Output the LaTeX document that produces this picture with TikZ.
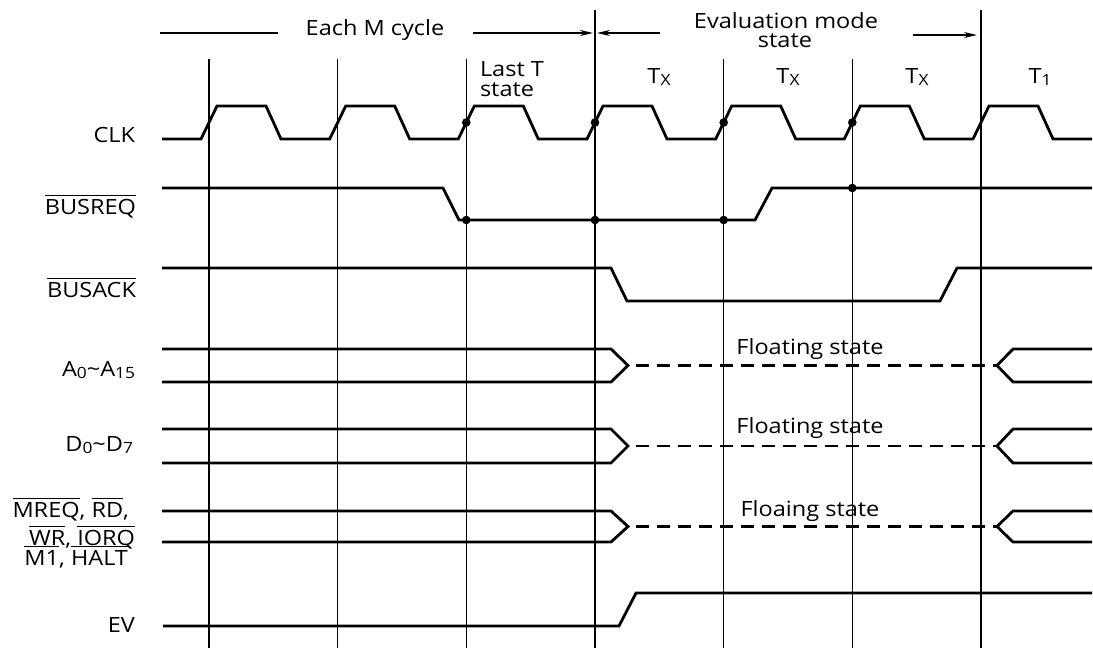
\documentclass[tikz,border=0pt]{standalone}
\usepackage{fontspec}
\setmainfont{Open Sans}[FakeStretch=1.12]
\usetikzlibrary{arrows.meta}
\newcommand\ovl[1]{\vbox{\hrule height 1.5pt\kern 2.6pt\hbox{#1}}}
\newcommand\sbs[1]{\raisebox{-2.3pt}{\fontsize{15.5pt}{15.5pt}\selectfont #1}}
\begin{document}
\begin{tikzpicture}[x=1pt,y=-1pt,
  lbl/.style={font=\fontsize{21pt}{21pt}\selectfont, inner sep=0pt, outer sep=0pt},
  sig/.style={line width=2.8pt, line join=miter},
  vline/.style={line width=1.2pt},
  arr/.style={line width=1.8pt},
  rarr/.style={-{Stealth[length=13pt,width=6pt]}}]
\useasboundingbox (0,0) rectangle (1093,648);
\fill[white] (0,0) rectangle (1093,648);
% vertical time lines
\foreach \v/\t in {209/59, 337.7/59, 466.3/59, 595/10, 723.7/59, 852.3/59, 981/10}
  \draw[vline] (\v,\t) -- (\v,648);
% CLK
\draw[sig] (162,139) foreach \v in {209,337.7,466.3,595,723.7,852.3,981}
  { -- ({\v-8},139) -- ({\v+8},106) -- ({\v+57},106) -- ({\v+72},139) } -- (1092,139);
% BUSREQ
\draw[sig] (162,188) -- (443,188) -- (459,220) -- (755,220) -- (772,188) -- (1092,188);
% BUSACK
\draw[sig] (162,268) -- (611,268) -- (627,301) -- (940,301) -- (957,268) -- (1092,268);
% buses
\foreach \a/\b in {349/382, 429/463, 511/542} {
  \draw[sig] (162,\a) -- (611,\a) -- (628,{(\a+\b)/2}) -- (611,\b) -- (162,\b);
  \draw[sig, dash pattern=on 13pt off 8pt] (636,{(\a+\b)/2}) -- (997,{(\a+\b)/2});
  \draw[sig] (1092,\a) -- (1013,\a) -- (997,{(\a+\b)/2}) -- (1013,\b) -- (1092,\b);
}
% EV
\draw[sig] (163,626) -- (619,626) -- (636,593) -- (1092,593);
% dots
\foreach \p in {(466.3,122.5),(595,122.5),(723.7,122.5),(852.3,122.5),
                (466.3,220),(595,220),(723.7,220),(852.3,188)}
  \fill \p circle[radius=4.3pt];
% top arrows
\draw[arr] (160,33) -- (278,33);
\draw[arr, rarr] (473,33) -- (593,33);
\draw[arr, rarr] (660,33) -- (597,33);
\draw[arr, rarr] (913,35) -- (977,35);
% top texts
\node[lbl, anchor=base] (eachm) at (375,35) {Each M cycle};
\node[lbl, anchor=base] (evm) at (786,28) {Evaluation mode};
\node[lbl, anchor=base] (evs) at (785,47.5) {state};
\node[lbl, anchor=base west] (lastt) at (480,76) {Last T};
\node[lbl, anchor=base west] (lasts) at (480,96) {state};
\node[lbl, anchor=base] (tx1) at (659,83) {T\sbs{X}};
\node[lbl, anchor=base] (tx2) at (788,83) {T\sbs{X}};
\node[lbl, anchor=base] (tx3) at (917,83) {T\sbs{X}};
\node[lbl, anchor=base] (t1) at (1040,83) {T\sbs{1}};
% left labels
\node[lbl, anchor=base east] (clk) at (135,142) {CLK};
\node[lbl, anchor=base east] (busreq) at (136,214) {\ovl{BUSREQ}};
\node[lbl, anchor=base east] (busack) at (136,297) {\ovl{BUSACK}};
\node[lbl, anchor=base east] (addr) at (135,376) {A\sbs{0}\textasciitilde A\sbs{15}};
\node[lbl, anchor=base east] (data) at (133,451) {D\sbs{0}\textasciitilde D\sbs{7}};
\node[lbl, anchor=base east] (ctl1) at (129,517) {\ovl{MREQ}, \ovl{RD},};
\node[lbl, anchor=base east] (ctl2) at (135,545) {\ovl{WR}, \ovl{IORQ}};
\node[lbl, anchor=base east] (ctl3) at (128,565) {\ovl{M1}, \ovl{HALT}};
\node[lbl, anchor=base east] (ev) at (135,632) {EV};
% floating labels
\node[lbl, anchor=base] (fl1) at (810,354) {Floating state};
\node[lbl, anchor=base] (fl2) at (810,433) {Floating state};
\node[lbl, anchor=base] (fl3) at (810,516) {Floaing state};
\end{tikzpicture}
\end{document}
